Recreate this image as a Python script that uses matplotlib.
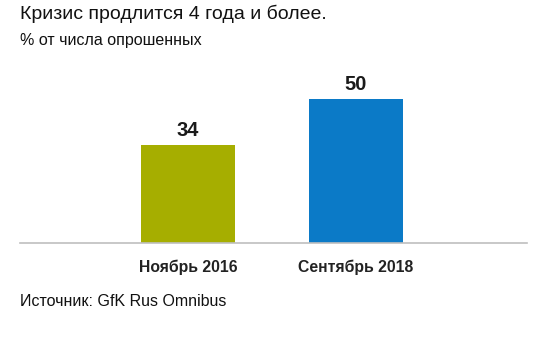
import matplotlib.pyplot as plt

plt.rcParams['font.family'] = ['Liberation Sans', 'DejaVu Sans']

categories = ["Ноябрь 2016", "Сентябрь 2018"]
values = [34, 50]
colors = ["#A6AE00", "#0B7AC7"]

fig = plt.figure(figsize=(5.44, 3.53), dpi=100)
ax = fig.add_axes([20 / 544, 0.3125, 507 / 544, 182.7 / 353])

x = list(range(len(categories)))
ax.bar(x, values, width=0.565, color=colors, zorder=2)
for xi, v in zip(x, values):
    ax.text(xi, v + 1.5, str(v), ha="center", va="bottom",
            fontsize=14.5, fontweight="bold", color="#1a1a1a")

ax.set_xlim(-1.0, 2.018)
ax.set_ylim(0, 63.4)
ax.set_xticks(x)
ax.set_xticklabels(categories, fontsize=11.3, fontweight="bold", color="#222222")
ax.tick_params(axis="x", length=0, pad=12)
ax.set_yticks([])
for s in ["top", "right", "left"]:
    ax.spines[s].set_visible(False)
ax.spines["bottom"].set_color("#bfbfbf")
ax.spines["bottom"].set_linewidth(1.2)

fig.text(20 / 544, 1 - 14 / 353, "Кризис продлится 4 года и более.",
         fontsize=14, va="center", ha="left", color="#111111")
fig.text(20 / 544, 1 - 41 / 353, "% от числа опрошенных",
         fontsize=11.5, va="center", ha="left", color="#111111")
fig.text(20 / 544, 1 - 302 / 353, "Источник: GfK Rus Omnibus",
         fontsize=11.5, va="center", ha="left", color="#111111")

fig.savefig("out.png", dpi=100, facecolor="white")
